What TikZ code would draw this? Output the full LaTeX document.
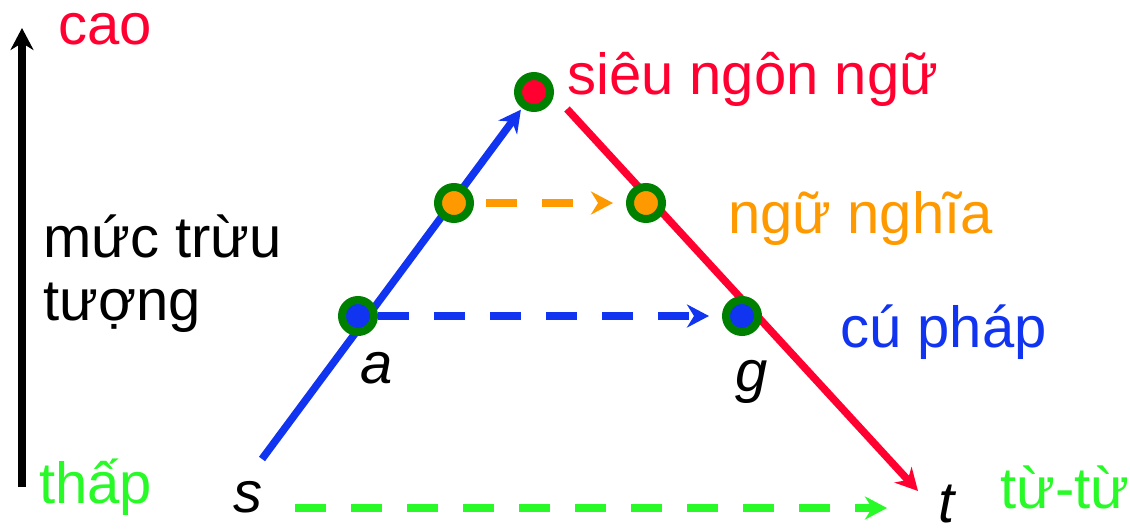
\documentclass[tikz,border=0pt]{standalone}
\usepackage{fontspec}
\setmainfont{Liberation Sans}
\usetikzlibrary{arrows.meta,backgrounds}
\definecolor{cred}{RGB}{255,0,48}
\definecolor{cblue}{RGB}{16,52,240}
\definecolor{corange}{RGB}{255,153,0}
\definecolor{cgreen}{RGB}{40,250,40}
\definecolor{cring}{RGB}{0,128,0}
\begin{document}
\begin{tikzpicture}[x=1pt,y=-1pt,
  every node/.style={font=\fontsize{58}{66}\selectfont, inner sep=0pt},
  dot/.style={circle, draw=cring, line width=8pt, minimum size=32pt, inner sep=0pt},
  txt/.style={anchor=base west},
  lab/.style={anchor=base, font=\fontsize{58}{66}\selectfont\itshape},
  ln/.style={line width=7.5pt},
  dsh/.style={line width=8pt, dash pattern=on 31pt off 25pt},
  tipa/.style={-{Stealth[length=22pt,width=23pt,inset=7pt]}}
]
\useasboundingbox (0,0) rectangle (1130,528);

% circles
\node[dot, fill=cred] (top) at (534,92) {};
\node[dot, fill=corange] (ol) at (454,203) {};
\node[dot, fill=corange] (or) at (646,203) {};
\node[dot, fill=cblue] (al) at (358,316) {};
\node[dot, fill=cblue] (gr) at (742,316) {};

% free ends
\coordinate (sb) at (262,459);
\coordinate (rs) at (567,109);
\coordinate (rt) at (918,491);
\coordinate (gs) at (295,508);
\coordinate (gt) at (887,508);
\coordinate (kb) at (22,487);
\coordinate (kt) at (22,28);

% labels
\node[txt, text=cred] (cao) at (58,44) {cao};
\node[txt] (muc) at (43,257) {mức trừu};
\node[txt] (tuong) at (43,320) {tượng};
\node[txt, text=cgreen] (thap) at (39,503) {thấp};
\node[txt, text=cred] (sieu) at (567,94) {siêu ngôn ngữ};
\node[txt, text=corange] (ngu) at (728,233) {ngữ nghĩa};
\node[txt, text=cblue] (cu) at (840,347) {cú pháp};
\node[txt, text=cgreen] (tu) at (1000,508) {từ-từ};
\node[lab] (s) at (248,512) {s};
\node[lab] (a) at (377,383) {a};
\node[lab] (g) at (752,391) {g};
\node[lab] (t) at (947,522) {t};

\begin{pgfonlayer}{background}
\draw[ln, tipa] (kb) -- (kt);
\draw[ln, cblue, tipa, shorten >=2pt] (sb) -- (top);
\draw[ln, cred, tipa] (rs) -- (rt);
\draw[dsh, cblue, tipa, shorten >=13pt] (al) -- (gr);
\draw[dsh, corange, tipa, shorten <=12pt, shorten >=13pt] (ol) -- (or);
\draw[dsh, cgreen, tipa] (gs) -- (gt);
\end{pgfonlayer}
\end{tikzpicture}
\end{document}
